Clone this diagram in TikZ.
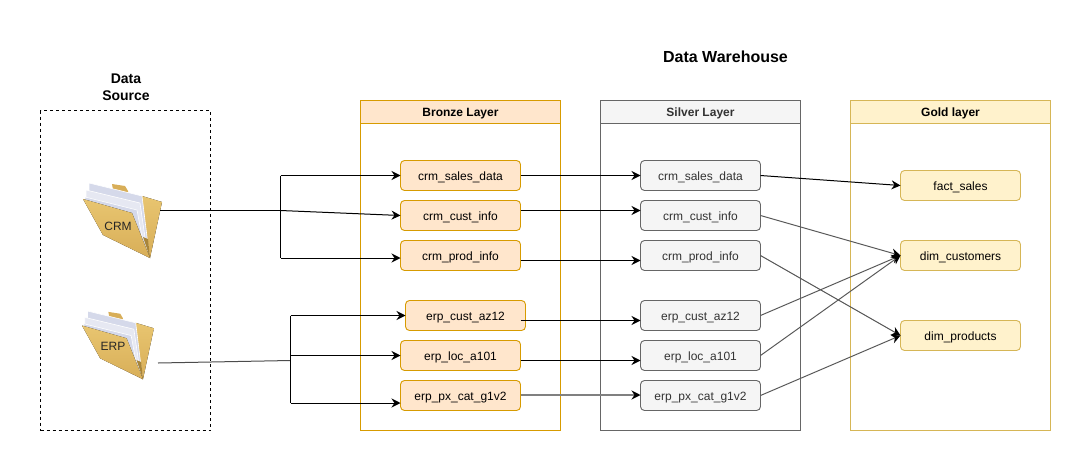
\documentclass[tikz,border=0pt]{standalone}
\usepackage{fontspec}
\setmainfont{Liberation Sans}
\usetikzlibrary{arrows.meta}
\definecolor{bronzeline}{HTML}{D79B00}
\definecolor{bronzefill}{HTML}{FFE6CC}
\definecolor{silverline}{HTML}{666666}
\definecolor{silverfill}{HTML}{F5F5F5}
\definecolor{goldline}{HTML}{D6B656}
\definecolor{goldfill}{HTML}{FFF2CC}
\definecolor{foldertop}{HTML}{E8C570}
\definecolor{folderlow}{HTML}{D8AE58}
\definecolor{folderdark}{HTML}{A8853A}
\definecolor{paperblue}{HTML}{D5D9EA}
\tikzset{
	layerbox/.style={draw, line width=.9pt, outer sep=0pt, minimum width=200pt, minimum height=330pt, anchor=north west, inner sep=0pt},
	layerhead/.style={draw, line width=.9pt, outer sep=0pt, minimum width=200pt, minimum height=23pt, anchor=north west, inner sep=0pt, text height=11.5pt, text depth=2pt, font=\fontsize{12}{14}\selectfont\bfseries},
	tablebox/.style={draw, line width=.9pt, outer sep=0pt, rounded corners=4pt, minimum width=120pt, minimum height=30pt, inner sep=0pt, text height=11pt, text depth=2pt, font=\fontsize{12}{14}\selectfont},
	bronzebox/.style={tablebox, draw=bronzeline, fill=bronzefill},
	silverbox/.style={tablebox, draw=silverline, fill=silverfill, text=black!80},
	goldbox/.style={tablebox, draw=goldline, fill=goldfill},
	titletext/.style={font=\fontsize{16}{19}\selectfont\bfseries, align=center},
	foldertext/.style={font=\fontsize{12}{14}\selectfont, text=black!85},
	flow/.style={-{Stealth[length=9pt,width=9pt,inset=3pt,color=black]}, line width=1pt},
	flowgrey/.style={flow, draw=black!65},
	flowthick/.style={flow, draw=black!50, line width=2pt},
	plainflow/.style={line width=1pt},
	paper/.style={fill=paperblue, draw=white, line width=.6pt},
	pics/folderpic/.style={code={
		% tab and back cover
		\fill[folderlow] (29,1) -- (42,3) -- (45,8) -- (45,10) -- (30,7) -- cycle;
		\fill[top color=foldertop, bottom color=folderlow] (59,13) -- (79,19) -- (67,75) -- (60,54) -- cycle;
		% sheets of paper
		\fill[paper] (6,0) -- (59,13) -- (66,70) -- (50,40) -- (6,14) -- cycle;
		\fill[paper, fill=paperblue!60!white] (3,7) -- (57,20) -- (64,68) -- (48,38) -- (3,18) -- cycle;
		\fill[paper] (2,14) -- (54,27) -- (62,70) -- (46,36) -- (2,20) -- cycle;
		% front cover
		\fill[top color=foldertop, bottom color=folderlow] (0,16) -- (49,30) -- (67,75) -- (20,52) -- cycle;
		\fill[folderdark] (60,54) -- (67,75) -- (65,56) -- cycle;
	}}
}
\begin{document}
\begin{tikzpicture}[x=1pt,y=-1pt]
	\useasboundingbox (0,0) rectangle (1092,471);

	% titles
	\node[titletext] (dwtitle) at (725.5,56.5) {Data Warehouse};
	\node[titletext, font=\fontsize{14}{17}\selectfont\bfseries] (srctitle) at (126,87) {Data\\Source};

	% source
	\node[layerbox, dash pattern=on 3pt off 3pt, minimum width=170pt, minimum height=320pt] (srcbox) at (40.5,110.5) {};
	\pic at (83,183) {folderpic};
	\pic[scale=.91] at (82,311) {folderpic};
	\node[foldertext] (crm) at (118,226) {CRM};
	\node[foldertext] (erp) at (113,346) {ERP};
	\coordinate (crmout) at (160,210.5);
	\coordinate (erpout) at (158,363);
	\coordinate (crmfork) at (280.5,210.5);
	\coordinate (crmtop) at (280.5,175.5);
	\coordinate (crmbot) at (280.5,258);
	\coordinate (erpfork) at (290.5,360.5);
	\coordinate (erptop) at (290.5,315.5);
	\coordinate (erpmid) at (290.5,355.5);
	\coordinate (erpbot) at (290.5,403);

	% layers
	\node[layerbox, draw=bronzeline] (bronze) at (360.5,100.5) {};
	\node[layerhead, draw=bronzeline, fill=bronzefill] (bronzehead) at (360.5,100.5) {Bronze Layer};
	\node[layerbox, draw=silverline] (silver) at (600.5,100.5) {};
	\node[layerhead, draw=silverline, fill=silverfill, text=black!80] (silverhead) at (600.5,100.5) {Silver Layer};
	\node[layerbox, draw=goldline] (gold) at (850.5,100.5) {};
	\node[layerhead, draw=goldline, fill=goldfill] (goldhead) at (850.5,100.5) {Gold layer};

	% bronze tables
	\node[bronzebox] (bcrmsales) at (460.5,175.5) {crm\_sales\_data};
	\node[bronzebox] (bcrmcust) at (460.5,215.5) {crm\_cust\_info};
	\node[bronzebox] (bcrmprod) at (460.5,255.5) {crm\_prod\_info};
	\node[bronzebox] (berpcust) at (465.5,315.5) {erp\_cust\_az12};
	\node[bronzebox] (berploc) at (460.5,355.5) {erp\_loc\_a101};
	\node[bronzebox] (berppx) at (460.5,395.5) {erp\_px\_cat\_g1v2};

	% silver tables
	\node[silverbox] (scrmsales) at (700.5,175.5) {crm\_sales\_data};
	\node[silverbox] (scrmcust) at (700.5,215.5) {crm\_cust\_info};
	\node[silverbox] (scrmprod) at (700.5,255.5) {crm\_prod\_info};
	\node[silverbox] (serpcust) at (700.5,315.5) {erp\_cust\_az12};
	\node[silverbox] (serploc) at (700.5,355.5) {erp\_loc\_a101};
	\node[silverbox] (serppx) at (700.5,395.5) {erp\_px\_cat\_g1v2};

	% gold tables
	\node[goldbox] (fact) at (960.5,185.5) {fact\_sales};
	\node[goldbox] (dimcust) at (960.5,255.5) {dim\_customers};
	\node[goldbox] (dimprod) at (960.5,335.5) {dim\_products};

	% source to bronze
	\draw[plainflow] (crmout) -- (crmfork);
	\draw[plainflow] (crmtop) -- (crmbot);
	\draw[flow] (crmtop) -- (bcrmsales.west);
	\draw[flow] (crmfork) -- (bcrmcust.west);
	\draw[flow] (crmbot) -- (crmbot -| bcrmprod.west);
	\draw[plainflow, draw=black!70] (erpout) -- (erpfork);
	\draw[plainflow] (erptop) -- (erpbot);
	\draw[flow] (erptop) -- (berpcust.west);
	\draw[flow] (erpmid) -- (berploc.west);
	\draw[flow] (erpbot) -- (erpbot -| berppx.west);

	% bronze to silver
	\draw[flow] (bcrmsales.east) -- (scrmsales.west);
	\draw[flow] ([yshift=5pt]bcrmcust.east) -- ([yshift=5pt]scrmcust.west);
	\draw[flow] ([yshift=-5pt]bcrmprod.east) -- ([yshift=-5pt]scrmprod.west);
	\draw[flow] ([xshift=-5pt,yshift=-5pt]berpcust.east) -- ([yshift=-5pt]serpcust.west);
	\draw[flow] ([yshift=-5pt]berploc.east) -- ([yshift=-5pt]serploc.west);
	\draw[flowthick] ([yshift=.5pt]berppx.east) -- ([yshift=.5pt]serppx.west);

	% silver to gold
	\draw[flow] (scrmsales.east) -- (fact.west);
	\draw[flowgrey] (scrmcust.east) -- (dimcust.west);
	\draw[flowgrey] (scrmprod.east) -- (dimprod.west);
	\draw[flowgrey] (serpcust.east) -- (dimcust.west);
	\draw[flowgrey] (serploc.east) -- (dimcust.west);
	\draw[flowgrey] (serppx.east) -- (dimprod.west);
\end{tikzpicture}
\end{document}
